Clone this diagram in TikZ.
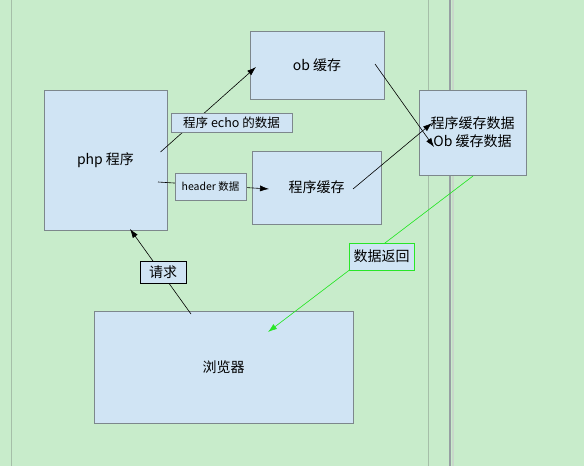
\documentclass[tikz,border=0pt]{standalone}
\usepackage{fontspec}
\setmainfont{Noto Sans CJK SC}
\usetikzlibrary{arrows.meta,positioning}
\definecolor{pagegreen}{RGB}{200,236,203}
\definecolor{boxblue}{RGB}{208,228,244}
\definecolor{boxgray}{RGB}{125,135,140}
\definecolor{rulegray}{RGB}{165,190,168}
\definecolor{backgreen}{RGB}{40,230,40}

\begin{document}
\begin{tikzpicture}[x=1pt,y=-1pt,
  block/.style={rectangle,draw=boxgray,fill=boxblue,line width=0.8pt,inner sep=0pt},
  tag/.style={rectangle,draw=boxgray,fill=boxblue,line width=0.8pt,inner sep=2pt},
  flow/.style={draw=black,line width=0.6pt,-{Latex[length=9pt,width=6pt]}},
  big/.style={font=\fontsize{14}{18}\selectfont},
  small/.style={font=\fontsize{12.5}{14}\selectfont}]
  \fill[pagegreen] (0,0) rectangle (584,466);
  \useasboundingbox (0,0) rectangle (584,466);

  % page rules
  \draw[rulegray,line width=0.8pt] (11,0) -- (11,466);
  \draw[rulegray,line width=0.8pt] (428,0) -- (428,466);
  \draw[rulegray!60,line width=2pt] (452.5,0) -- (452.5,466);
  \draw[boxgray!80,line width=2pt] (450,0) -- (450,466);

  \node[block,big,minimum width=123pt,minimum height=140pt] (php) at (105.5,160) {php 程序};
  \node[block,big,minimum width=134pt,minimum height=68pt] (ob) at (317,65) {ob 缓存};
  \node[block,big,minimum width=129pt,minimum height=73pt] (cache) at (316.5,187.5) {程序缓存};
  \node[block,big,minimum width=107pt,minimum height=85pt,align=center] (data) at (472.5,132.5)
    {程序缓存数据\\Ob 缓存数据};
  \node[block,big,minimum width=259pt,minimum height=112pt] (browser) at (223.5,367) {浏览器};

  \coordinate (phpA) at (160.5,152);
  \coordinate (phpB) at (158,182);
  \coordinate (phpC) at (130,229);
  \coordinate (obA) at (256,67);
  \coordinate (obB) at (375,64);
  \coordinate (cacheA) at (269,189);
  \coordinate (cacheB) at (353,189);
  \coordinate (dataA) at (434,147);
  \coordinate (dataB) at (432,123);
  \coordinate (dataC) at (473,176);
  \coordinate (browserA) at (191,314);
  \coordinate (browserB) at (268,332);

  \draw[flow] (phpA) -- (obA);
  \draw[flow] (phpB) -- (cacheA);
  \draw[flow] (obB) -- (dataA);
  \draw[flow] (cacheB) -- (dataB);
  \draw[flow] (browserA) -- (phpC);
  \draw[flow,draw=backgreen,fill=backgreen] (dataC) -- (browserB);

  \node[tag,small,minimum width=121pt,minimum height=19pt] (echo) at (231.5,122.5) {程序 echo 的数据};
  \node[tag,font=\fontsize{10.5}{12}\selectfont,minimum width=71pt,minimum height=27pt] (header) at (210.5,186.5) {header 数据};
  \node[tag,big,draw=black,minimum width=46pt,minimum height=22pt] (ask) at (163,272) {请求};
  \node[tag,big,draw=backgreen,minimum width=65pt,minimum height=27pt] (back) at (381.5,256.5) {数据返回};
\end{tikzpicture}
\end{document}
